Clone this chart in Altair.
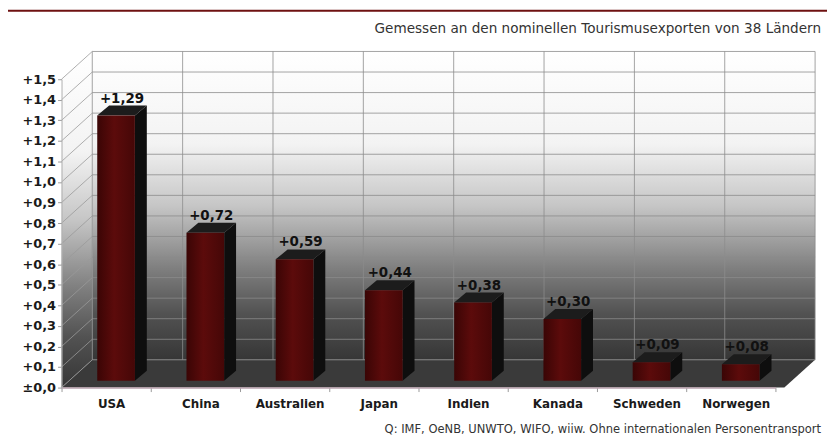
import altair as alt
import pandas as pd

# ---------------- data ----------------
countries = ["USA", "China", "Australien", "Japan", "Indien", "Kanada", "Schweden", "Norwegen"]
values = [1.29, 0.72, 0.59, 0.44, 0.38, 0.30, 0.09, 0.08]
y_ticks = [0.0, 0.1, 0.2, 0.3, 0.4, 0.5, 0.6, 0.7, 0.8, 0.9, 1.0, 1.1, 1.2, 1.3, 1.4, 1.5]
subtitle = "Gemessen an den nominellen Tourismusexporten von 38 Ländern"
source = "Q: IMF, OeNB, UNWTO, WIFO, wiiw. Ohne internationalen Personentransport"

# ---------------- geometry (pseudo 3D) ----------------
W, H = 720, 311
N = len(countries)
YMAX = 1.5
PXX = W / N
PXY = H / YMAX
DX, DY = 31 / PXX, 28 / PXY          # depth of the walls
EXT = 9 / PXX                          # walls extend slightly past last category
BACK_W = N + EXT
BX, BY, BW = 10 / PXX, 7 / PXY, 38 / PXX   # bar placement inside depth
SDX, SDY = 12 / PXX, 10 / PXY              # bar depth

FONT = "DejaVu Sans"
xsc = alt.Scale(domain=[0, N], nice=False, zero=False)
ysc = alt.Scale(domain=[0, YMAX], nice=False, zero=False)

names_js = "[" + ",".join("'" + c + "'" for c in countries) + "]"
x_axis = alt.Axis(
    values=list(range(N + 1)),
    labelExpr=names_js + "[datum.value] || ''",
    labelOffset=PXX / 2 + 5,
    labelFont=FONT, labelFontSize=12, labelFontWeight="bold", labelColor="#1a1a1a",
    labelPadding=7, labelBound=False, labelOverlap=False, labelFlush=False,
    ticks=True, tickSize=4, tickColor="#9a9a9a",
    domainColor="#b9a0ad", domainWidth=1.5, grid=False, title=None, zindex=1,
)
y_axis = alt.Axis(
    values=y_ticks,
    labelExpr="datum.value == 0 ? '±0,0' : '+' + replace(format(datum.value, '.1f'), '.', ',')",
    labelFont=FONT, labelFontSize=13, labelFontWeight="bold", labelColor="#1a1a1a",
    labelPadding=2, tickSize=4, tickColor="#9a9a9a", domainColor="#b0b0b0",
    grid=False, title=None, zindex=1,
)


def X(f, **kw):
    return alt.X(f, type="quantitative", scale=xsc, axis=x_axis, **kw)


def Y(f, **kw):
    return alt.Y(f, type="quantitative", scale=ysc, axis=y_axis, **kw)


def grad(stops, vertical=True):
    return alt.LinearGradient(
        gradient="linear",
        x1=0, y1=0,
        x2=0 if vertical else 1,
        y2=1 if vertical else 0,
        stops=[alt.GradientStop(offset=o, color=c) for o, c in stops],
    )


wall_stops = [(0, "#ffffff"), (0.3, "#f3f3f3"), (0.5, "#c6c6c6"),
              (0.7, "#808080"), (0.85, "#525252"), (1, "#363636")]

# ---------------- tables ----------------
back = pd.DataFrame({"x": [DX], "x2": [DX + BACK_W], "y": [DY], "y2": [YMAX + DY]})
left = pd.DataFrame({"x": [0, DX], "top": [YMAX, YMAX + DY], "bot": [0, DY]})
floor = pd.DataFrame({"y": [0, DY], "xl": [0, DX], "xr": [BACK_W, BACK_W + DX]})
hgrid = pd.DataFrame({"y": [v + DY for v in y_ticks], "x": DX, "x2": DX + BACK_W})
vgrid = pd.DataFrame({"x": [DX + k * BACK_W / N for k in range(N + 1)], "y": DY, "y2": YMAX + DY})
diag = pd.DataFrame({"x": 0.0, "y": y_ticks, "x2": DX, "y2": [v + DY for v in y_ticks]})

front_rows, side_rows, top_rows, lab_rows = [], [], [], []
for i, (c, v) in enumerate(zip(countries, values)):
    x0 = i + 0.5 + BX - BW / 2
    x1 = x0 + BW
    yb, yt = BY, BY + v
    front_rows.append({"c": c, "x0": x0, "x1": x1, "yb": yb, "yt": yt})
    side_rows += [{"c": c, "x": x1, "top": yt, "bot": yb},
                  {"c": c, "x": x1 + SDX, "top": yt + SDY, "bot": yb + SDY}]
    top_rows += [{"c": c, "y": yt, "xl": x0, "xr": x1},
                 {"c": c, "y": yt + SDY, "xl": x0 + SDX, "xr": x1 + SDX}]
    lab_rows.append({"c": c, "x": (x0 + x1) / 2 + SDX / 2, "y": yt + SDY,
                     "t": "+" + f"{v:.2f}".replace(".", ",")})
front = pd.DataFrame(front_rows)
side = pd.DataFrame(side_rows)
topf = pd.DataFrame(top_rows)
labs = pd.DataFrame(lab_rows)

# ---------------- layers ----------------
back_l = alt.Chart(back).mark_rect(fill=grad(wall_stops)).encode(
    x=X("x"), x2=alt.X2("x2"), y=Y("y"), y2=alt.Y2("y2"))

left_l = alt.Chart(left).mark_area(fill=grad(wall_stops)).encode(
    x=X("x"), y=Y("top", stack=None), y2=alt.Y2("bot"))

floor_l = alt.Chart(floor).mark_area(orient="horizontal", fill="#3a3a3a").encode(
    y=Y("y"), x=X("xl", stack=None), x2=alt.X2("xr"))

hgrid_l = alt.Chart(hgrid).mark_rule(color="#8c8c8c", strokeWidth=1, opacity=0.8).encode(
    x=X("x"), x2=alt.X2("x2"), y=Y("y"))
vgrid_l = alt.Chart(vgrid).mark_rule(color="#8c8c8c", strokeWidth=1, opacity=0.8).encode(
    x=X("x"), y=Y("y"), y2=alt.Y2("y2"))
diag_l = alt.Chart(diag).mark_rule(color="#9a9a9a", strokeWidth=1, opacity=0.8).encode(
    x=X("x"), y=Y("y"), x2=alt.X2("x2"), y2=alt.Y2("y2"))

side_l = alt.Chart(side).mark_area(fill="#0e0e0e").encode(
    x=X("x"), y=Y("top", stack=None), y2=alt.Y2("bot"), detail="c:N")
top_l = alt.Chart(topf).mark_area(orient="horizontal", fill="#1c1c1c").encode(
    y=Y("y"), x=X("xl", stack=None), x2=alt.X2("xr"), detail="c:N")

front_l = alt.Chart(front).mark_rect(
    fill=grad([(0, "#3a0505"), (0.45, "#5c0b0b"), (1, "#450707")], vertical=False)
).encode(x=X("x0"), x2=alt.X2("x1"), y=Y("yb"), y2=alt.Y2("yt"))

lab_l = alt.Chart(labs).mark_text(
    font=FONT, fontSize=13.5, fontWeight="bold", color="#111111", baseline="alphabetic", dy=-3
).encode(x=X("x"), y=Y("y"), text="t:N")

one = pd.DataFrame({"t": [subtitle]})
sub_l = alt.Chart(one).mark_text(
    font=FONT, fontSize=13.7, color="#333333", align="right", baseline="alphabetic"
).encode(x=alt.value(766), y=alt.value(-47), text="t:N")

src = pd.DataFrame({"t": [source]})
src_l = alt.Chart(src).mark_text(
    font=FONT, fontSize=11.6, color="#333333", align="right", baseline="alphabetic"
).encode(x=alt.value(766), y=alt.value(H + 46), text="t:N")

band = pd.DataFrame({"t": [""]})
band_l = alt.Chart(band).mark_rect(color="#6e1111").encode(
    x=alt.value(-54), x2=alt.value(W + 52), y=alt.value(-70), y2=alt.value(-68))

chart = alt.layer(
    back_l, left_l, floor_l, hgrid_l, vgrid_l, diag_l,
    side_l, top_l, front_l, lab_l, sub_l, src_l, band_l,
).properties(
    width=W, height=H,
    autosize=alt.AutoSizeParams(type="none"),
    padding={"left": 54, "top": 70, "right": 52, "bottom": 49},
    background="#ffffff",
).configure_view(stroke=None)

chart.save("out.html", embed_options={"renderer": "svg", "actions": False})
